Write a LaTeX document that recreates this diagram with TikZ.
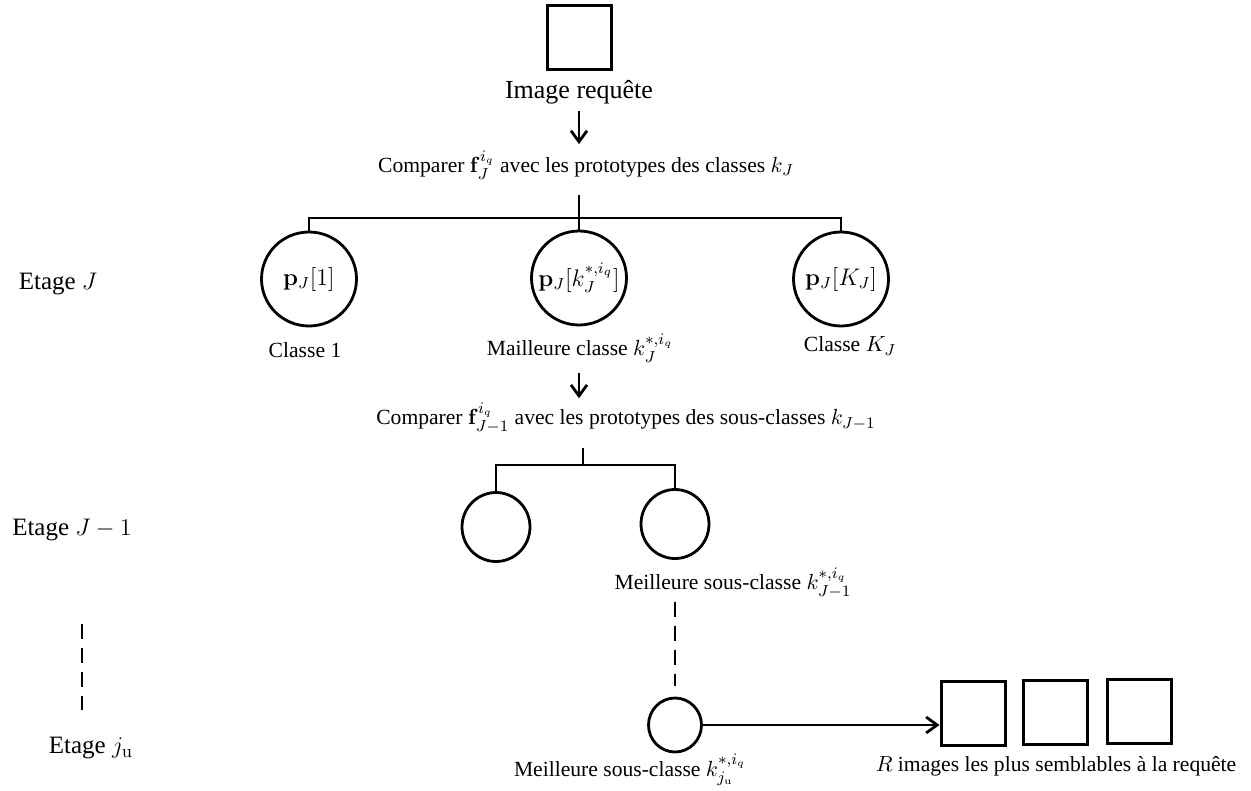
\documentclass[tikz,border=0pt]{standalone}
\usepackage[no-math]{fontspec}
\setmainfont{Liberation Serif}
\usepackage{amsmath}
\usetikzlibrary{arrows.meta,shapes.geometric}

\begin{document}
\begin{tikzpicture}[x=0.5pt,y=-0.5pt,line width=1.4pt,
  lbl/.style={font=\fontsize{10.8}{12.5}\selectfont,inner sep=0pt},
  stage/.style={font=\fontsize{12.5}{15}\selectfont,inner sep=0pt},
  imgbox/.style={draw,line width=1.5pt,inner sep=0pt,minimum size=32pt},
  bigclass/.style={draw,ellipse,inner sep=0pt,minimum width=47.5pt,minimum height=47pt},
  proto/.style={label={[font=\fontsize{12}{14}\selectfont,inner sep=0pt]center:#1}},
  subclass/.style={draw,ellipse,inner sep=0pt,minimum width=34pt,minimum height=34.5pt},
  leafclass/.style={draw,ellipse,inner sep=0pt,minimum width=26.5pt,minimum height=27pt},
  arr/.style={-{Straight Barb[length=5.5pt,width=8pt,line width=1.4pt]}},
  dashline/.style={dash pattern=on 7.5pt off 4.5pt}]

\useasboundingbox (0,0) rectangle (1251,791);

% query image
\node[imgbox] (query) at (579,38) {};
\node[font=\fontsize{13}{15}\selectfont,inner sep=0pt] (querytxt) at (579,92) {Image requête};
\node[lbl] (cmpJ) at (586,165) {Comparer $\mathbf{f}_J^{i_q}$ avec les prototypes des classes $k_J$};
\draw[arr,shorten <=3pt,shorten >=2.5pt] (querytxt.south) -- (querytxt.south |- cmpJ.north);

% stage J
\node[bigclass,proto={$\mathbf{p}_J[1]$}] (cJa) at (309,279) {};
\node[bigclass,proto={$\mathbf{p}_J[k_J^{*,i_q}]$}] (cJb) at (579,278) {};
\node[bigclass,proto={$\mathbf{p}_J[K_J]$}] (cJc) at (841,279) {};
\coordinate (barJ) at (579,218);
\draw ([yshift=-7pt]cmpJ.south -| barJ) -- (barJ);
\draw (cJa.north) -- (cJa.north |- barJ) -- (cJc.north |- barJ) -- (cJc.north);
\draw (barJ) -- (cJb.north);

\node[lbl] (labJa) at (305,350) {Classe 1};
\node[lbl] (labJb) at (580,348) {Mailleure classe $k_J^{*,i_q}$};
\node[lbl] (labJc) at (850,346) {Classe $K_J$};

\node[lbl] (cmpJm) at (626,418) {Comparer $\mathbf{f}_{J-1}^{i_q}$ avec les prototypes des sous-classes $k_{J-1}$};
\draw[arr,shorten <=4.5pt,shorten >=1.5pt] (labJb.south -| cJb) -- (cJb |- cmpJm.north);

% stage J-1
\node[subclass] (cKa) at (496,527) {};
\node[subclass] (cKb) at (675,524) {};
\coordinate (barK) at (583,465);
\draw ([yshift=-6.5pt]cmpJm.south -| barK) -- (barK);
\draw (cKa.north) -- (cKa.north |- barK) -- (cKb.north |- barK) -- (cKb.north);
\node[lbl] (labKb) at (733,583) {Meilleure sous-classe $k_{J-1}^{*,i_q}$};

% stage j_u
\node[leafclass] (cL) at (675,725) {};
\draw[dashline] ([yshift=-1pt]labKb.south -| cL) -- ([yshift=5.5pt]cL.north);
\node[lbl] (labL) at (630,770) {Meilleure sous-classe $k_{j_{\mathrm{u}}}^{*,i_q}$};

% retrieved images
\node[imgbox] (res1) at (973,713) {};
\node[imgbox] (res2) at (1055,712) {};
\node[imgbox] (res3) at (1139,711) {};
\draw[arr] (cL.east) -- (res1.west |- cL.east);
\node[lbl] (labR) at (1056,766) {$R$ images les plus semblables à la requête};

% stage labels
\node[stage] (stJ) at (58,284) {Etage $J$};
\node[stage] (stJm) at (72,530) {Etage $J-1$};
\node[stage] (stL) at (91,748) {Etage $j_{\mathrm{u}}$};
\draw[dashline] ([yshift=-41pt]stJm.south -| 82,0) -- ([yshift=13pt]stL.north -| 82,0);

\end{tikzpicture}
\end{document}
